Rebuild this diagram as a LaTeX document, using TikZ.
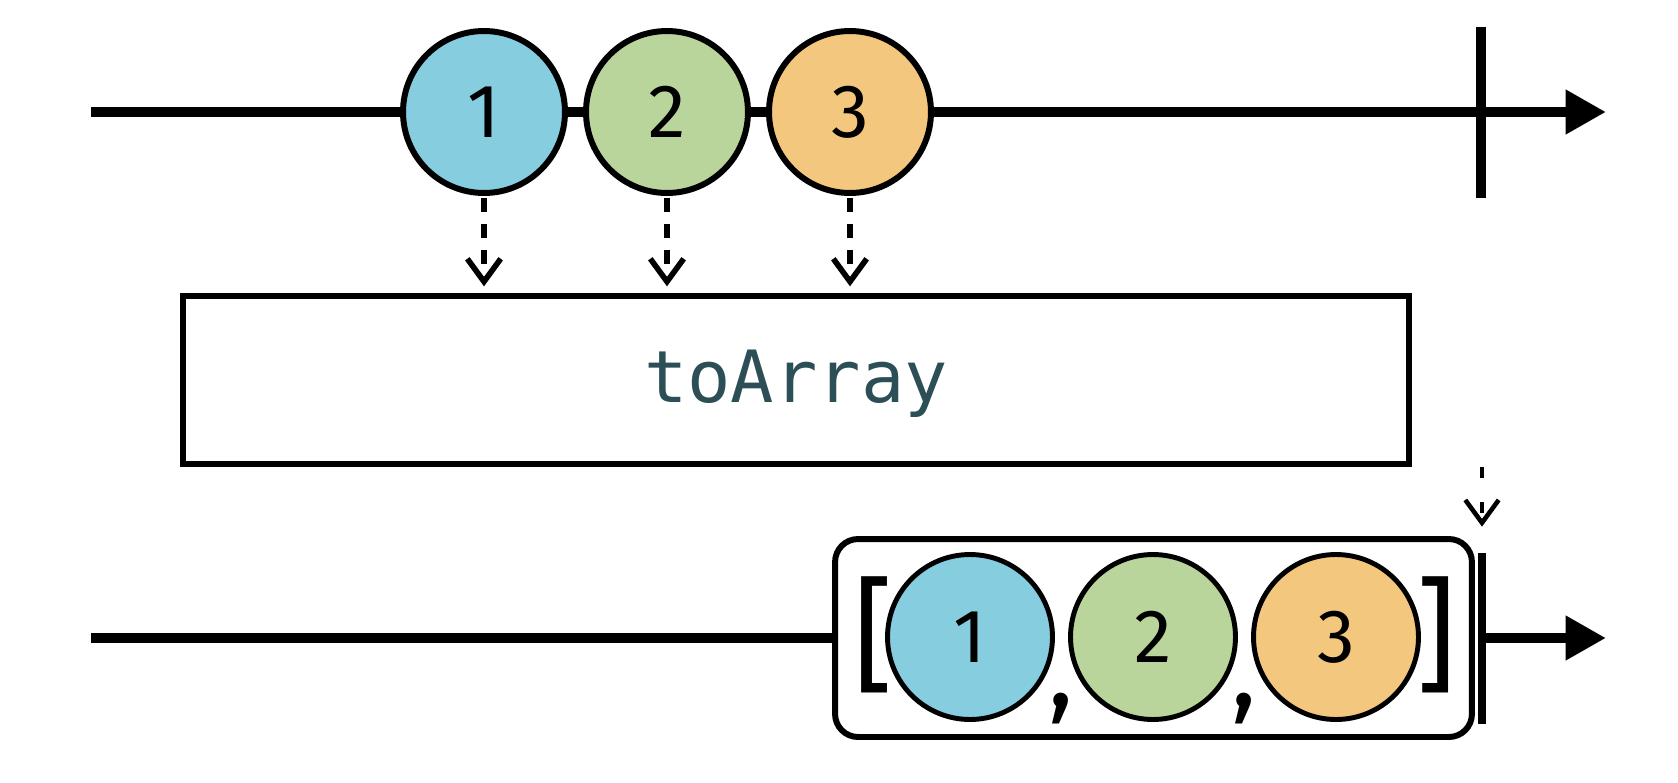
\documentclass[tikz,border=0pt]{standalone}
\usepackage{fontspec}
\setmainfont{Fira Sans}
\newfontfamily\codefont{DejaVu Sans Mono}
\usetikzlibrary{arrows.meta}

\definecolor{mblue}{HTML}{85CDDF}
\definecolor{mgreen}{HTML}{B9D59C}
\definecolor{morange}{HTML}{F4C77E}
\definecolor{optext}{HTML}{2C4E57}

\begin{document}
\begin{tikzpicture}[x=0.02cm, y=-0.02cm,
  marble/.style={circle, draw, line width=3.4pt, minimum size=3.24cm, inner sep=0pt, font=\fontsize{43}{50}\selectfont},
  timeline/.style={line width=5.7pt, -{Triangle[length=23pt,width=24pt]}},
  stopbar/.style={line width=5.7pt},
  emits/.style={line width=3.2pt, dash pattern=on 8pt off 7pt, -{Straight Barb[length=13pt,width=19pt]}},
  punct/.style={inner sep=0pt, font=\fontsize{60}{66}\selectfont}]
\useasboundingbox (0,0) rectangle (1678,782);
\coordinate (s1) at (91,112);
\coordinate (e1) at (1606,112);
\coordinate (t1a) at (1481,27);
\coordinate (t1b) at (1481,198);
\coordinate (s2) at (91,638);
\coordinate (e2) at (1606,638);
\coordinate (t2a) at (1482,553);
\coordinate (t2b) at (1482,724);
\coordinate (q) at (1482,467);

\draw[timeline] (s1) -- (e1);
\draw[stopbar] (t1a) -- (t1b);

\node[marble, fill=mblue] (a1) at (484,112) {1};
\node[marble, fill=mgreen] (a2) at (667,112) {2};
\node[marble, fill=morange] (a3) at (850,112) {3};

\node[draw, line width=3pt, minimum width=24.52cm, minimum height=3.36cm, text depth=0.14cm,
  text=optext, font=\codefont\fontsize{41}{49}\selectfont] (op) at (796,380) {toArray};

\foreach \m in {a1,a2,a3}
  \draw[emits, shorten <=1pt, shorten >=4pt] (\m.south) -- (\m |- op.north);

\node[draw, line width=3.4pt, rounded corners=0.46cm, minimum width=12.74cm,
  minimum height=3.96cm] (arr) at (1153.5,638) {};
\draw[stopbar] (s2) -- (arr.west);
\draw[timeline] (t2a |- s2) -- (e2);
\draw[stopbar, line width=4.6pt] (t2a) -- (t2b);
\draw[emits, line width=2.6pt, dash pattern=on 6pt off 14pt, shorten >=15pt] (q) -- (t2a);

\node[marble, fill=mblue, line width=2.8pt, minimum size=3.3cm] (b1) at (970,637) {1};
\node[marble, fill=mgreen, line width=2.8pt, minimum size=3.3cm] (b2) at (1153,637) {2};
\node[marble, fill=morange, line width=2.8pt, minimum size=3.3cm] (b3) at (1336,637) {3};

\node[punct, font=\fontsize{71}{78}\selectfont] (lb) at (874,635) {[};
\node[punct, font=\fontsize{71}{78}\selectfont] (rb) at (1437,635) {]};
\node[punct, anchor=north] (c1) at (1061,693) {,};
\node[punct, anchor=north] (c2) at (1244,693) {,};
\end{tikzpicture}
\end{document}
